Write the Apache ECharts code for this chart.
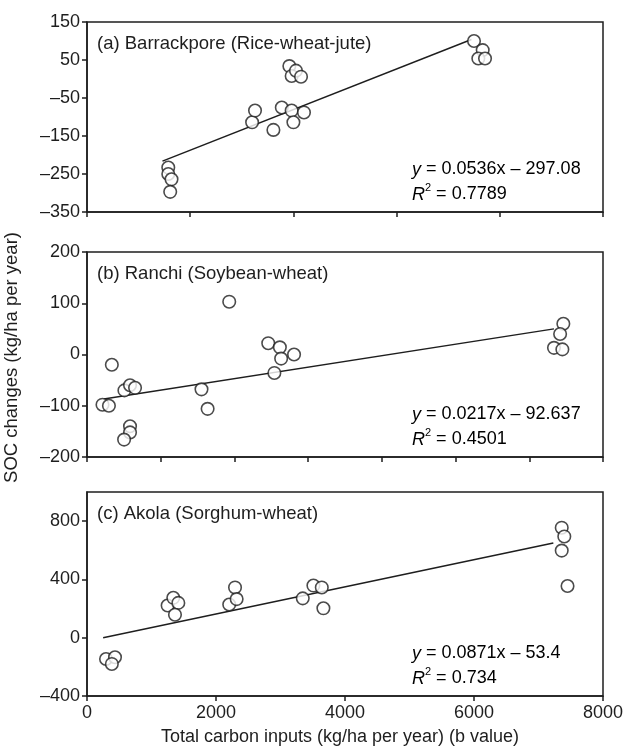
<!DOCTYPE html>
<html>
<head>
<meta charset="utf-8">
<script src="https://cdn.jsdelivr.net/npm/echarts@6/dist/echarts.min.js"></script>
<style>
  html, body { margin: 0; padding: 0; background: #fff; }
  #chart { width: 623px; height: 752px; }
</style>
</head>
<body>
<div id="chart"></div>
<script>
// panel (a) Barrackpore
const barrackporePoints = [
  [1260, -233], [1260, -250], [1310, -264], [1290, -297],
  [2560, -114], [2605, -83], [2890, -134], [3020, -75],
  [3137, 34], [3173, 8], [3240, 22], [3318, 6],
  [3173, -83], [3200, -114], [3364, -88],
  [6000, 100], [6135, 76], [6067, 54], [6171, 54]
]
const barrackporeFit = [[1170, -216], [5960, 104]]

// panel (b) Ranchi
const ranchiPoints = [
  [240, -98], [340, -100], [385, -20],
  [580, -70], [667, -60], [745, -65],
  [667, -140], [667, -152], [575, -166],
  [1775, -68], [1870, -106], [2205, 103],
  [2810, 22], [2990, 14], [3010, -8], [3210, 0], [2905, -36],
  [7385, 60], [7335, 40], [7240, 13], [7370, 10]
]
const ranchiFit = [[260, -87], [7240, 50]]

// panel (c) Akola
const akolaPoints = [
  [295, -146], [434, -134], [385, -180],
  [1250, 221], [1338, 274], [1416, 239], [1364, 158],
  [2205, 228], [2295, 345], [2320, 265],
  [3345, 270], [3510, 358], [3640, 345], [3665, 202],
  [7360, 755], [7400, 695], [7360, 598], [7450, 355]
]
const akolaFit = [[250, 0], [7230, 650]]

const xTicksA = [0, 1600, 3200, 4800, 6400, 8000]
const xTicksB = [0, 8000 / 7, 16000 / 7, 24000 / 7, 32000 / 7, 40000 / 7, 48000 / 7, 8000]
const xTicksC = [0, 2000, 4000, 6000, 8000]
const yTicksA = [-350, -250, -150, -50, 50, 150]
const yTicksB = [-200, -100, 0, 100, 200]
const yTicksC = [-400, 0, 400, 800]

const panelTitles = [
  '(a) Barrackpore (Rice-wheat-jute)',
  '(b) Ranchi (Soybean-wheat)',
  '(c) Akola (Sorghum-wheat)'
]
const equations = [
  ['0.0536x \u2013 297.08', '0.7789'],
  ['0.0217x \u2013 92.637', '0.4501'],
  ['0.0871x \u2013 53.4', '0.734']
]

const ink = '#1e1e1e'
const font = '"Liberation Sans", Arial, sans-serif'
const dash = v => String(Math.round(v)).replace('-', '\u2013')

const grids = [
  { left: 87, top: 22, width: 516, height: 190 },
  { left: 87, top: 252, width: 516, height: 205 },
  { left: 87, top: 492, width: 516, height: 204 }
]

const makeX = (i, ticks, showLabels) => ({
  type: 'value',
  gridIndex: i,
  min: 0,
  max: 8000,
  axisLine: { show: true, onZero: false, lineStyle: { color: ink, width: 1.5 } },
  axisTick: { show: true, length: 5, customValues: ticks, lineStyle: { color: ink, width: 1.5 } },
  axisLabel: {
    show: showLabels,
    customValues: ticks,
    color: ink,
    fontSize: 18,
    fontFamily: font,
    margin: 8,
    formatter: dash
  },
  splitLine: { show: false },
  name: showLabels ? 'Total carbon inputs (kg/ha per year) (b value)' : '',
  nameLocation: 'middle',
  nameGap: 32,
  nameTextStyle: { color: ink, fontSize: 18, fontFamily: font, padding: [0, 10, 0, 0] }
})

const makeY = (i, min, max, ticks, name) => ({
  type: 'value',
  gridIndex: i,
  min: min,
  max: max,
  axisLine: { show: true, onZero: false, lineStyle: { color: ink, width: 1.5 } },
  axisTick: { show: true, length: 5, customValues: ticks, lineStyle: { color: ink, width: 1.5 } },
  axisLabel: {
    customValues: ticks,
    color: ink,
    fontSize: 18,
    fontFamily: font,
    margin: 7,
    formatter: dash
  },
  splitLine: { show: false },
  name: name || '',
  nameLocation: 'middle',
  nameGap: 66,
  nameTextStyle: { color: ink, fontSize: 18.5, fontFamily: font, padding: [0, 6, 0, 0] }
})

const scatter = (i, data) => ({
  type: 'scatter',
  xAxisIndex: i,
  yAxisIndex: i,
  data: data,
  symbol: 'circle',
  symbolSize: 12.5,
  z: 3,
  itemStyle: { color: '#fff', borderColor: ink, borderWidth: 1.6 }
})

const fitLine = (i, data) => ({
  type: 'line',
  xAxisIndex: i,
  yAxisIndex: i,
  data: data,
  symbol: 'none',
  z: 2,
  lineStyle: { color: ink, width: 1.5 }
})

const rich = {
  i: { fontStyle: 'italic', fontSize: 18, fontFamily: font, color: ink },
  n: { fontSize: 18, fontFamily: font, color: ink },
  sup: { fontSize: 11, fontFamily: font, color: ink, verticalAlign: 'top', padding: [0, 0, 9, 0] }
}

const texts = []
grids.forEach((g, i) => {
  texts.push({
    type: 'text',
    left: g.left + 10,
    top: g.top + 12,
    style: { text: panelTitles[i], fill: ink, font: '18.5px ' + font }
  })
  texts.push({
    type: 'text',
    left: 412,
    top: g.top + g.height - 55,
    style: {
      text: '{i|y}{n| = ' + equations[i][0] + '}\n{i|R}{sup|2}{n| = ' + equations[i][1] + '}',
      rich: rich,
      lineHeight: 25
    }
  })
})

const chart = echarts.init(document.getElementById('chart'))
chart.setOption({
  backgroundColor: '#fff',
  animation: false,
  grid: grids.map(g => ({ ...g, show: true, borderColor: ink, borderWidth: 1.5, outerBoundsMode: 'none', containLabel: false })),
  xAxis: [makeX(0, xTicksA, false), makeX(1, xTicksB, false), makeX(2, xTicksC, true)],
  yAxis: [
    makeY(0, -350, 150, yTicksA),
    makeY(1, -200, 200, yTicksB, 'SOC changes (kg/ha per year)'),
    makeY(2, -400, 1000, yTicksC)
  ],
  series: [
    fitLine(0, barrackporeFit), scatter(0, barrackporePoints),
    fitLine(1, ranchiFit), scatter(1, ranchiPoints),
    fitLine(2, akolaFit), scatter(2, akolaPoints)
  ],
  graphic: texts
})
window.addEventListener('resize', () => chart.resize())
</script>
</body>
</html>
